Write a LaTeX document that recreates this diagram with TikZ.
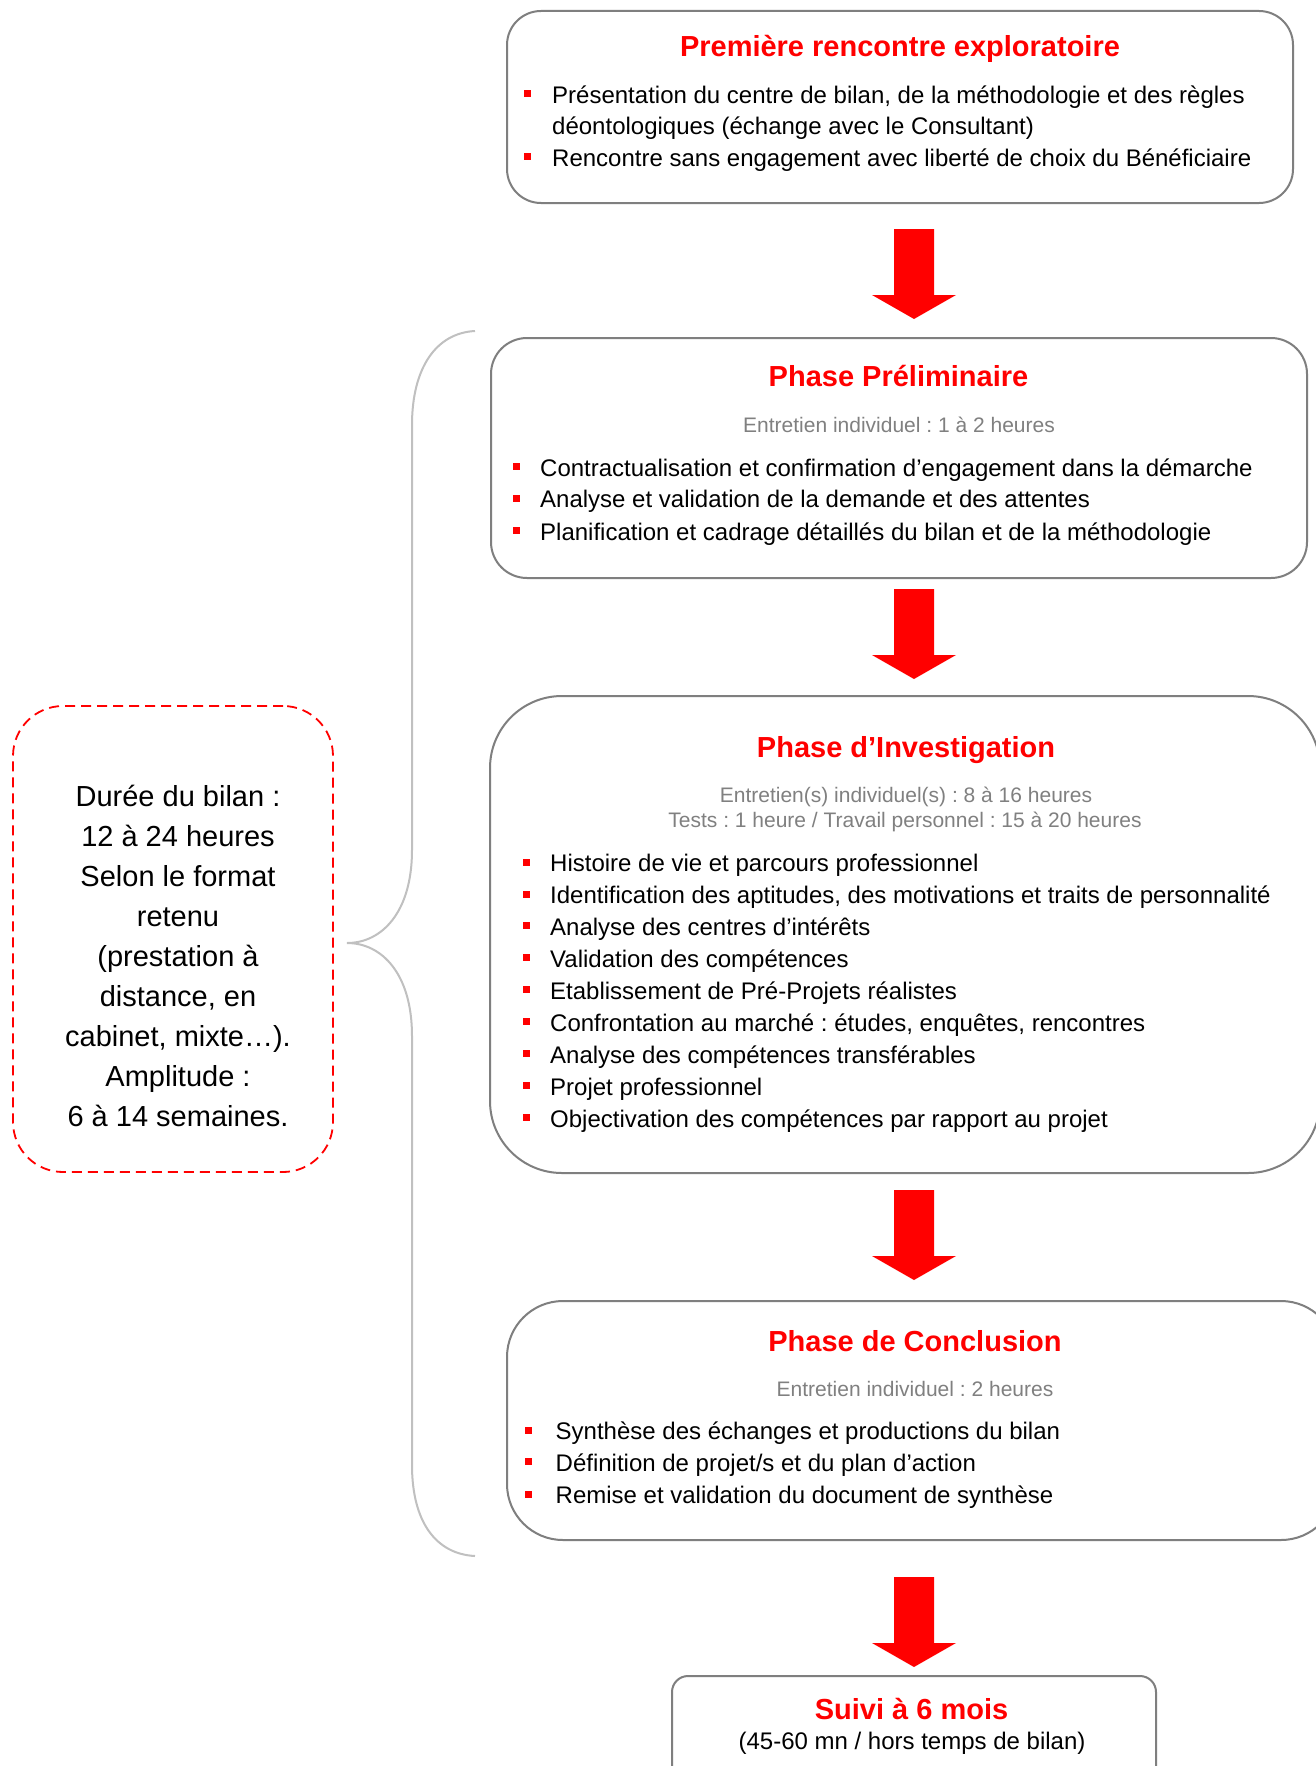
\documentclass[tikz,border=0pt]{standalone}
\usepackage{fontspec}
\setmainfont{Liberation Sans}
\frenchspacing
\definecolor{boxgray}{HTML}{7F7F7F}
\definecolor{bracegray}{HTML}{C0C0C0}
\definecolor{subgray}{HTML}{808080}
\definecolor{accent}{HTML}{FF0000}
\newcommand\bitem[5]{% name, bullet x, text x, baseline, text
  \node[sqbullet] (#1s) at (#2+3.5,#4-9.5) {};
  \node[itemtext] (#1) at (#3,#4) {#5};}
\newcommand\blockarrow[3]{% name, centre x, top y
  \coordinate (#1) at (#2,#3);
  \fill[accent] (#1) ++(-20,0) -- ++(40,0) -- ++(0,66) -- ++(22,0)
     -- ++(-42,24) -- ++(-42,-24) -- ++(22,0) -- cycle;}
\begin{document}
\frenchspacing
\begin{tikzpicture}[x=1pt,y=-1pt,
  phasebox/.style={draw=boxgray, line width=2pt, inner sep=0pt},
  durbox/.style={draw=accent, line width=1.8pt, dash pattern=on 10pt off 6pt, inner sep=0pt},
  titletext/.style={font=\fontsize{29}{35}\bfseries\selectfont, text=accent, inner sep=0pt, anchor=base},
  subtext/.style={font=\fontsize{21}{25}\selectfont, text=subgray, inner sep=0pt, anchor=base},
  plaintext/.style={font=\fontsize{24}{29}\selectfont, inner sep=0pt, anchor=base},
  itemtext/.style={font=\fontsize{24}{29}\selectfont, inner sep=0pt, anchor=base west},
  sidetext/.style={font=\fontsize{29}{35}\selectfont, inner sep=0pt, anchor=base},
  sqbullet/.style={fill=accent, minimum size=7pt, inner sep=0pt},
  bracestyle/.style={draw=bracegray, line width=2pt}]
\fill[white] (0,0) rectangle (1316,1766);
\useasboundingbox (0,0) rectangle (1316,1766);

% --- Box 1
\node[phasebox, rounded corners=34pt, minimum width=786pt, minimum height=192pt] (b1) at (900,107) {};
\node[titletext] (b1t) at (900,56.7) {Première rencontre exploratoire};
\bitem{b1i1}{524}{552}{103.1}{Présentation du centre de bilan, de la méthodologie et des règles}
\node[itemtext] (b1i1b) at (552,134.7) {déontologiques (échange avec le Consultant)};
\bitem{b1i2}{524}{552}{166.2}{Rencontre sans engagement avec liberté de choix du Bénéficiaire}

% --- Box 2
\node[phasebox, rounded corners=36pt, minimum width=816pt, minimum height=240pt] (b2) at (899,458) {};
\node[titletext] (b2t) at (898.5,386.8) {Phase Préliminaire};
\node[subtext] (b2s) at (899,432.3) {Entretien individuel : 1 à 2 heures};
\bitem{b2i1}{512.5}{540}{476}{Contractualisation et confirmation d’engagement dans la démarche}
\bitem{b2i2}{512.5}{540}{507.8}{Analyse et validation de la demande et des attentes}
\bitem{b2i3}{512.5}{540}{540}{Planification et cadrage détaillés du bilan et de la méthodologie}

% --- Box 3
\node[phasebox, rounded corners=72pt, minimum width=830pt, minimum height=477pt] (b3) at (905,934.5) {};
\node[titletext] (b3t) at (906,757.5) {Phase d’Investigation};
\node[subtext] (b3s1) at (906,802.9) {Entretien(s) individuel(s) : 8 à 16 heures};
\node[subtext] (b3s2) at (905,827.7) {Tests : 1 heure / Travail personnel : 15 à 20 heures};
\bitem{b3i1}{523}{550}{871.5}{Histoire de vie et parcours professionnel}
\bitem{b3i2}{523}{550}{903.5}{Identification des aptitudes, des motivations et traits de personnalité}
\bitem{b3i3}{523}{550}{935.4}{Analyse des centres d’intérêts}
\bitem{b3i4}{523}{550}{967.4}{Validation des compétences}
\bitem{b3i5}{523}{550}{999.4}{Etablissement de Pré-Projets réalistes}
\bitem{b3i6}{523}{550}{1031.4}{Confrontation au marché : études, enquêtes, rencontres}
\bitem{b3i7}{523}{550}{1063.3}{Analyse des compétences transférables}
\bitem{b3i8}{523}{550}{1095.3}{Projet professionnel}
\bitem{b3i9}{523}{550}{1127.3}{Objectivation des compétences par rapport au projet}

% --- Box 4
\node[phasebox, rounded corners=56pt, minimum width=830pt, minimum height=239pt] (b4) at (922,1420.5) {};
\node[titletext] (b4t) at (915,1351.3) {Phase de Conclusion};
\node[subtext] (b4s) at (915,1396.7) {Entretien individuel : 2 heures};
\bitem{b4i1}{525}{555.5}{1439.5}{Synthèse des échanges et productions du bilan}
\bitem{b4i2}{525}{555.5}{1471}{Définition de projet/s et du plan d’action}
\bitem{b4i3}{525}{555.5}{1503.5}{Remise et validation du document de synthèse}

% --- Box 5
\node[phasebox, rounded corners=16pt, minimum width=484pt, minimum height=140pt] (b5) at (914,1746) {};
\node[titletext] (b5t) at (911.5,1719.7) {Suivi à 6 mois};
\node[plaintext] (b5s) at (912,1749.2) {(45-60 mn / hors temps de bilan)};

% --- Block arrows
\blockarrow{a1}{914}{229}
\blockarrow{a2}{914}{589}
\blockarrow{a3}{914}{1190}
\blockarrow{a4}{914}{1577}

% --- Duration box
\node[durbox, rounded corners=50pt, minimum width=320pt, minimum height=466pt] (dur) at (173,939) {};
\foreach \t [count=\i] in {{Durée du bilan :}, {12 à 24 heures}, {Selon le format}, {retenu}, {(prestation à}, {distance, en}, {cabinet, mixte…).}, {Amplitude :}, {6 à 14 semaines.}}
  \node[sidetext] (dur\i) at (178,{806+40.1*(\i-1)}) {\t};

% --- Brace
\coordinate (brtop) at (475,331);
\coordinate (brtip) at (347,943);
\coordinate (brbot) at (475,1556);
\draw[bracestyle] (brtop) .. controls (436,333) and (412,368) .. (412,425)
  -- (412,850) .. controls (412,912) and (382,943) .. (brtip)
  .. controls (382,943) and (412,974) .. (412,1036)
  -- (412,1465) .. controls (412,1522) and (436,1554) .. (brbot);
\end{tikzpicture}
\end{document}
